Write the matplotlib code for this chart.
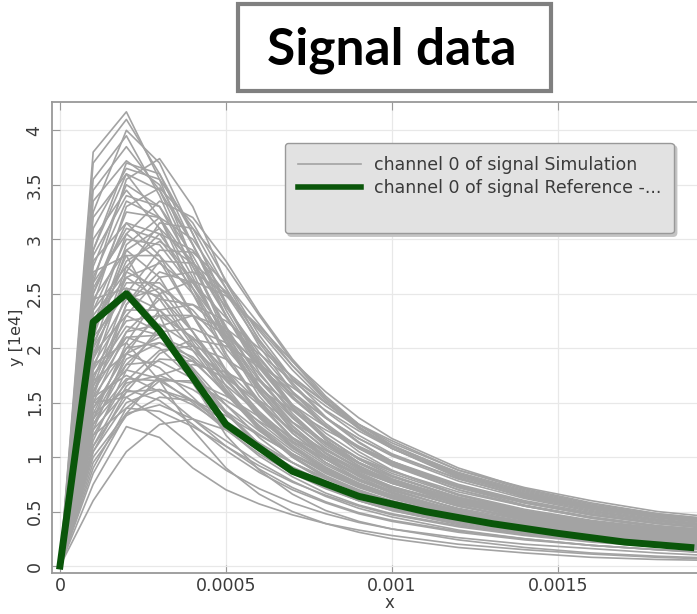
import matplotlib
matplotlib.use('Agg')
import matplotlib.pyplot as plt
from matplotlib.patches import Rectangle
from matplotlib.lines import Line2D
from matplotlib.ticker import FuncFormatter, MultipleLocator, FixedLocator

# reference signal (y in units of 1e4)
ref_x = [0, 0.0001, 0.0002, 0.0003, 0.0005, 0.0007, 0.0009, 0.0011, 0.0013, 0.0015, 0.0017, 0.0019]
ref_y = [0, 2.24, 2.50, 2.16, 1.30, 0.87, 0.64, 0.50, 0.39, 0.30, 0.22, 0.17]

# simulation runs, sampled on sim_x
sim_x = [0, 0.0001, 0.0002, 0.0003, 0.0004, 0.0005, 0.0006, 0.0007, 0.0008, 0.0009,
         0.0010, 0.0012, 0.0014, 0.0016, 0.0018, 0.0020]
sim_y = [
    [0, 3.80, 4.17, 3.55, 2.80, 2.10, 1.60, 1.25, 1.00, 0.82, 0.68, 0.50, 0.38, 0.29, 0.22, 0.17],
    [0, 3.70, 4.10, 3.60, 2.95, 2.30, 1.78, 1.40, 1.12, 0.92, 0.77, 0.56, 0.42, 0.32, 0.25, 0.20],
    [0, 3.25, 4.00, 3.70, 3.05, 2.40, 1.86, 1.46, 1.16, 0.95, 0.79, 0.58, 0.44, 0.34, 0.27, 0.21],
    [0, 3.55, 3.95, 3.40, 2.70, 2.05, 1.56, 1.22, 0.98, 0.80, 0.67, 0.49, 0.37, 0.28, 0.22, 0.17],
    [0, 3.35, 3.72, 3.50, 2.95, 2.35, 1.84, 1.45, 1.16, 0.95, 0.80, 0.59, 0.45, 0.35, 0.28, 0.23],
    [0, 3.10, 3.65, 3.55, 3.10, 2.55, 2.02, 1.60, 1.28, 1.05, 0.88, 0.65, 0.50, 0.39, 0.31, 0.25],
    [0, 2.60, 3.55, 3.74, 3.30, 2.60, 2.07, 1.72, 1.50, 1.30, 1.15, 0.88, 0.72, 0.60, 0.50, 0.44],
    [0, 2.90, 3.60, 3.45, 2.95, 2.40, 1.92, 1.55, 1.28, 1.08, 0.93, 0.72, 0.58, 0.47, 0.39, 0.33],
    [0, 2.40, 3.30, 3.47, 3.15, 2.62, 2.12, 1.72, 1.42, 1.20, 1.03, 0.80, 0.64, 0.53, 0.45, 0.39],
    [0, 2.75, 3.50, 3.30, 2.75, 2.18, 1.72, 1.38, 1.13, 0.95, 0.82, 0.63, 0.50, 0.40, 0.33, 0.28],
    [0, 2.20, 3.05, 3.35, 3.20, 2.80, 2.32, 1.90, 1.56, 1.30, 1.10, 0.84, 0.66, 0.54, 0.45, 0.40],
    [0, 3.00, 3.45, 3.10, 2.50, 1.92, 1.48, 1.17, 0.95, 0.79, 0.67, 0.50, 0.39, 0.31, 0.25, 0.21],
    [0, 2.50, 3.25, 3.20, 2.75, 2.20, 1.72, 1.36, 1.10, 0.92, 0.78, 0.60, 0.47, 0.37, 0.30, 0.25],
    [0, 2.10, 2.95, 3.20, 3.00, 2.55, 2.08, 1.68, 1.37, 1.14, 0.96, 0.72, 0.56, 0.45, 0.37, 0.32],
    [0, 2.80, 3.15, 2.85, 2.30, 1.78, 1.38, 1.09, 0.88, 0.73, 0.62, 0.46, 0.35, 0.27, 0.21, 0.17],
    [0, 1.90, 2.75, 3.05, 2.90, 2.50, 2.05, 1.66, 1.36, 1.13, 0.96, 0.73, 0.58, 0.47, 0.39, 0.34],
    [0, 2.35, 3.00, 2.95, 2.55, 2.05, 1.60, 1.26, 1.01, 0.83, 0.70, 0.52, 0.40, 0.31, 0.25, 0.20],
    [0, 2.60, 3.05, 2.80, 2.30, 1.80, 1.40, 1.10, 0.89, 0.74, 0.63, 0.47, 0.36, 0.28, 0.22, 0.18],
    [0, 1.70, 2.50, 2.90, 2.88, 2.60, 2.22, 1.84, 1.52, 1.27, 1.08, 0.82, 0.65, 0.53, 0.44, 0.38],
    [0, 2.20, 2.85, 2.85, 2.50, 2.05, 1.64, 1.32, 1.08, 0.90, 0.77, 0.59, 0.46, 0.37, 0.30, 0.25],
    [0, 2.45, 2.90, 2.65, 2.15, 1.65, 1.27, 1.00, 0.81, 0.68, 0.58, 0.44, 0.34, 0.27, 0.21, 0.17],
    [0, 1.95, 2.65, 2.78, 2.55, 2.15, 1.76, 1.43, 1.18, 0.99, 0.85, 0.65, 0.51, 0.41, 0.34, 0.29],
    [0, 1.60, 2.30, 2.65, 2.70, 2.50, 2.18, 1.84, 1.54, 1.30, 1.11, 0.85, 0.68, 0.55, 0.46, 0.40],
    [0, 2.30, 2.70, 2.55, 2.15, 1.72, 1.36, 1.09, 0.89, 0.75, 0.64, 0.49, 0.38, 0.30, 0.24, 0.20],
    [0, 2.05, 2.60, 2.60, 2.30, 1.90, 1.52, 1.22, 1.00, 0.84, 0.72, 0.55, 0.43, 0.34, 0.28, 0.23],
    [0, 2.10, 2.50, 2.35, 1.98, 1.58, 1.25, 1.00, 0.82, 0.69, 0.59, 0.45, 0.35, 0.28, 0.22, 0.18],
    [0, 1.50, 2.15, 2.45, 2.40, 2.15, 1.84, 1.54, 1.29, 1.09, 0.94, 0.73, 0.58, 0.47, 0.39, 0.34],
    [0, 1.85, 2.35, 2.35, 2.08, 1.72, 1.38, 1.11, 0.91, 0.76, 0.65, 0.50, 0.39, 0.31, 0.25, 0.21],
    [0, 1.40, 2.00, 2.30, 2.30, 2.12, 1.86, 1.60, 1.36, 1.17, 1.01, 0.78, 0.62, 0.50, 0.42, 0.36],
    [0, 1.95, 2.30, 2.15, 1.80, 1.42, 1.12, 0.89, 0.72, 0.60, 0.51, 0.39, 0.30, 0.24, 0.19, 0.15],
    [0, 1.65, 2.15, 2.22, 2.02, 1.70, 1.39, 1.13, 0.93, 0.78, 0.67, 0.51, 0.40, 0.32, 0.26, 0.22],
    [0, 1.30, 1.85, 2.15, 2.18, 2.05, 1.82, 1.58, 1.36, 1.17, 1.02, 0.80, 0.64, 0.52, 0.43, 0.37],
    [0, 1.75, 2.10, 2.00, 1.72, 1.40, 1.12, 0.90, 0.74, 0.62, 0.53, 0.41, 0.32, 0.25, 0.20, 0.16],
    [0, 1.55, 2.00, 2.05, 1.88, 1.60, 1.32, 1.08, 0.90, 0.76, 0.65, 0.50, 0.39, 0.31, 0.25, 0.21],
    [0, 1.20, 1.70, 1.98, 2.02, 1.90, 1.70, 1.48, 1.28, 1.10, 0.96, 0.75, 0.60, 0.49, 0.41, 0.35],
    [0, 1.70, 1.95, 1.82, 1.55, 1.26, 1.01, 0.82, 0.67, 0.56, 0.48, 0.37, 0.29, 0.23, 0.18, 0.14],
    [0, 1.45, 1.85, 1.88, 1.72, 1.48, 1.24, 1.03, 0.86, 0.73, 0.63, 0.49, 0.39, 0.31, 0.25, 0.21],
    [0, 1.35, 1.72, 1.70, 1.52, 1.28, 1.06, 0.88, 0.73, 0.62, 0.53, 0.41, 0.32, 0.26, 0.21, 0.17],
    [0, 1.55, 1.75, 1.60, 1.35, 1.10, 0.89, 0.72, 0.59, 0.49, 0.42, 0.32, 0.25, 0.19, 0.15, 0.12],
    [0, 1.10, 1.55, 1.72, 1.68, 1.52, 1.33, 1.14, 0.98, 0.84, 0.73, 0.57, 0.46, 0.37, 0.31, 0.26],
    [0, 1.40, 1.62, 1.52, 1.30, 1.06, 0.86, 0.70, 0.58, 0.48, 0.41, 0.31, 0.24, 0.19, 0.15, 0.12],
    [0, 0.95, 1.38, 1.55, 1.52, 1.38, 1.20, 1.03, 0.88, 0.75, 0.65, 0.50, 0.40, 0.32, 0.26, 0.22],
    [0, 1.50, 1.55, 1.35, 1.10, 0.88, 0.71, 0.58, 0.48, 0.40, 0.34, 0.26, 0.20, 0.16, 0.12, 0.09],
    [0, 1.20, 1.45, 1.42, 1.28, 1.10, 0.92, 0.77, 0.65, 0.55, 0.47, 0.36, 0.28, 0.22, 0.18, 0.14],
    [0, 0.75, 1.28, 1.18, 0.90, 0.70, 0.57, 0.47, 0.39, 0.33, 0.28, 0.20, 0.15, 0.11, 0.08, 0.06],
    [0, 0.60, 1.05, 1.30, 1.35, 1.25, 1.10, 0.95, 0.81, 0.69, 0.59, 0.45, 0.35, 0.28, 0.22, 0.18],
    [0, 1.00, 1.40, 1.48, 1.35, 1.15, 0.95, 0.78, 0.64, 0.53, 0.45, 0.33, 0.25, 0.19, 0.15, 0.11],
    [0, 1.25, 1.60, 1.62, 1.48, 1.28, 1.08, 0.91, 0.77, 0.66, 0.57, 0.44, 0.35, 0.28, 0.23, 0.19],
    [0, 2.65, 3.35, 3.20, 2.65, 2.08, 1.62, 1.28, 1.04, 0.86, 0.73, 0.55, 0.43, 0.34, 0.27, 0.22],
    [0, 1.80, 2.70, 3.15, 3.10, 2.75, 2.30, 1.88, 1.54, 1.28, 1.08, 0.81, 0.63, 0.51, 0.42, 0.36],
    [0, 2.90, 3.70, 3.60, 3.05, 2.42, 1.88, 1.48, 1.19, 0.98, 0.83, 0.62, 0.48, 0.38, 0.31, 0.26],
    [0, 2.15, 2.80, 2.98, 2.78, 2.38, 1.96, 1.60, 1.31, 1.09, 0.93, 0.70, 0.55, 0.44, 0.36, 0.31],
    [0, 1.35, 2.05, 2.50, 2.62, 2.48, 2.20, 1.88, 1.60, 1.36, 1.17, 0.90, 0.71, 0.58, 0.48, 0.42],
    [0, 1.05, 1.60, 1.95, 2.08, 2.02, 1.85, 1.64, 1.43, 1.24, 1.08, 0.84, 0.67, 0.55, 0.46, 0.40],
    [0, 2.45, 2.55, 2.20, 1.78, 1.40, 1.10, 0.88, 0.72, 0.60, 0.51, 0.38, 0.29, 0.23, 0.18, 0.14],
    [0, 0.85, 1.40, 1.75, 1.85, 1.78, 1.62, 1.43, 1.25, 1.09, 0.95, 0.74, 0.59, 0.48, 0.40, 0.34],
    [0, 1.85, 2.05, 1.70, 1.25, 0.90, 0.66, 0.50, 0.39, 0.31, 0.25, 0.17, 0.12, 0.08, 0.06, 0.05],
    [0, 2.70, 2.85, 2.30, 1.68, 1.20, 0.88, 0.66, 0.51, 0.41, 0.34, 0.24, 0.17, 0.12, 0.09, 0.07],
    [0, 2.00, 2.90, 3.10, 2.80, 2.30, 1.84, 1.48, 1.22, 1.02, 0.87, 0.66, 0.52, 0.42, 0.35, 0.30],
    [0, 2.55, 3.10, 3.00, 2.60, 2.12, 1.70, 1.37, 1.12, 0.94, 0.80, 0.61, 0.48, 0.38, 0.31, 0.26],
    [0, 1.55, 2.40, 2.80, 2.78, 2.52, 2.16, 1.80, 1.50, 1.26, 1.08, 0.83, 0.66, 0.54, 0.45, 0.39],
    [0, 3.20, 3.60, 3.20, 2.55, 1.95, 1.50, 1.18, 0.95, 0.79, 0.67, 0.50, 0.39, 0.31, 0.25, 0.20],
    [0, 1.25, 1.95, 2.35, 2.40, 2.25, 2.00, 1.74, 1.50, 1.30, 1.13, 0.88, 0.70, 0.57, 0.48, 0.42],
    [0, 1.90, 2.45, 2.55, 2.35, 2.00, 1.65, 1.36, 1.13, 0.95, 0.82, 0.63, 0.50, 0.40, 0.33, 0.28],
    [0, 1.60, 2.10, 2.12, 1.90, 1.58, 1.29, 1.06, 0.88, 0.74, 0.64, 0.49, 0.39, 0.31, 0.26, 0.22],
    [0, 1.15, 1.80, 2.20, 2.30, 2.18, 1.95, 1.70, 1.47, 1.27, 1.10, 0.86, 0.69, 0.56, 0.47, 0.41],
    [0, 2.25, 2.65, 2.45, 2.02, 1.60, 1.26, 1.01, 0.83, 0.70, 0.60, 0.46, 0.36, 0.29, 0.23, 0.19],
    [0, 1.45, 1.95, 2.10, 1.98, 1.74, 1.48, 1.25, 1.06, 0.91, 0.79, 0.62, 0.50, 0.41, 0.34, 0.29],
    [0, 1.30, 1.68, 1.75, 1.62, 1.42, 1.21, 1.02, 0.87, 0.75, 0.65, 0.51, 0.41, 0.33, 0.27, 0.23],
    [0, 0.90, 1.45, 1.70, 1.70, 1.56, 1.37, 1.18, 1.01, 0.87, 0.76, 0.60, 0.48, 0.39, 0.33, 0.28],
    [0, 1.75, 2.20, 2.12, 1.82, 1.48, 1.18, 0.95, 0.78, 0.65, 0.56, 0.43, 0.33, 0.26, 0.21, 0.17],
    [0, 2.85, 3.40, 3.30, 2.85, 2.30, 1.82, 1.45, 1.18, 0.98, 0.83, 0.63, 0.49, 0.39, 0.32, 0.27],
    [0, 2.00, 2.55, 2.48, 2.15, 1.76, 1.42, 1.15, 0.95, 0.80, 0.69, 0.53, 0.42, 0.34, 0.28, 0.23],
    [0, 1.35, 1.90, 2.05, 1.92, 1.66, 1.40, 1.17, 0.98, 0.83, 0.72, 0.55, 0.44, 0.35, 0.29, 0.25],
    [0, 3.45, 3.85, 3.45, 2.80, 2.15, 1.65, 1.29, 1.03, 0.85, 0.71, 0.52, 0.40, 0.31, 0.25, 0.20],
    [0, 1.05, 1.50, 1.62, 1.52, 1.33, 1.13, 0.95, 0.80, 0.68, 0.58, 0.45, 0.35, 0.28, 0.22, 0.18],
    [0, 1.65, 2.40, 2.70, 2.60, 2.28, 1.90, 1.56, 1.29, 1.08, 0.92, 0.70, 0.55, 0.44, 0.36, 0.31],
    [0, 2.35, 2.75, 2.50, 2.05, 1.62, 1.28, 1.03, 0.85, 0.72, 0.62, 0.48, 0.38, 0.30, 0.24, 0.20],
    [0, 1.50, 1.80, 1.72, 1.50, 1.25, 1.03, 0.85, 0.71, 0.60, 0.52, 0.40, 0.31, 0.25, 0.20, 0.16],
    [0, 1.10, 1.65, 1.90, 1.88, 1.72, 1.52, 1.32, 1.14, 0.99, 0.87, 0.68, 0.55, 0.45, 0.37, 0.32],
    [0, 2.50, 3.15, 3.05, 2.62, 2.10, 1.66, 1.32, 1.07, 0.89, 0.76, 0.57, 0.45, 0.36, 0.29, 0.24],
    [0, 1.80, 2.25, 2.30, 2.10, 1.80, 1.50, 1.24, 1.04, 0.88, 0.76, 0.58, 0.46, 0.37, 0.30, 0.26],
]

x_ticks = [0, 0.0005, 0.001, 0.0015]
sim_label = 'channel 0 of signal Simulation'
ref_label = 'channel 0 of signal Reference -...'

fig = plt.figure(figsize=(6.97, 6.14), dpi=100)
ax = fig.add_axes([52/697, 41/614, 674/697, 471/614])

for row in sim_y:
    ax.plot(sim_x, row, color='#a3a3a3', lw=1.2, zorder=2)
ax.plot(ref_x, ref_y, color='#0a560a', lw=5, zorder=3, solid_joinstyle='round')

ax.set_xlim(-0.000024, 0.002006)
ax.set_ylim(-0.064, 4.26)
ax.xaxis.set_major_locator(FixedLocator(x_ticks))
ax.yaxis.set_major_locator(MultipleLocator(0.5))
fmt = FuncFormatter(lambda v, p: '%g' % round(v, 6))
ax.xaxis.set_major_formatter(fmt)
ax.yaxis.set_major_formatter(fmt)

ax.grid(True, color='#e8e8e8', lw=0.9, zorder=0)
ax.set_axisbelow(True)
ax.tick_params(direction='in', top=True, right=True, length=6, color='#999999',
               labelsize=12.5, labelcolor='#3a3a3a', pad=6)
ax.tick_params(axis='x', pad=3)
for lab in ax.get_yticklabels():
    lab.set_rotation(90)
    lab.set_va('center')
for s in ax.spines.values():
    s.set_color('#999999')
    s.set_linewidth(1.3)

ax.set_xlabel('x', fontsize=12, color='#3a3a3a', labelpad=-1)
ax.set_ylabel('y [1e4]', fontsize=11.5, color='#3a3a3a', labelpad=1)

handles = [Line2D([], [], color='#a3a3a3', lw=1.2),
           Line2D([], [], color='#0a560a', lw=4),
           Line2D([], [], color='none')]
leg = fig.legend(handles, [sim_label, ref_label, ' '], loc='upper left',
                 bbox_to_anchor=(285/697, (614-143)/614), borderaxespad=0,
                 fontsize=12.5, handlelength=3.6, handletextpad=0.75,
                 labelspacing=0.3, borderpad=0.75, fancybox=True,
                 shadow={'color': '#c4c4c4', 'alpha': 1}, framealpha=1,
                 facecolor='#e2e2e2', edgecolor='#999999', labelcolor='#3a3a3a')

# title box
fig.add_artist(Rectangle((238/697, (614-91)/614), 313/697, 87/614,
                         transform=fig.transFigure, facecolor='white',
                         edgecolor='#808080', lw=3))
fig.text(0.5624, (614-65)/614, 'Signal data', ha='center', va='baseline',
         fontsize=37, fontweight='bold', family=['Lato', 'DejaVu Sans'])

fig.savefig('out.png', dpi=100)
